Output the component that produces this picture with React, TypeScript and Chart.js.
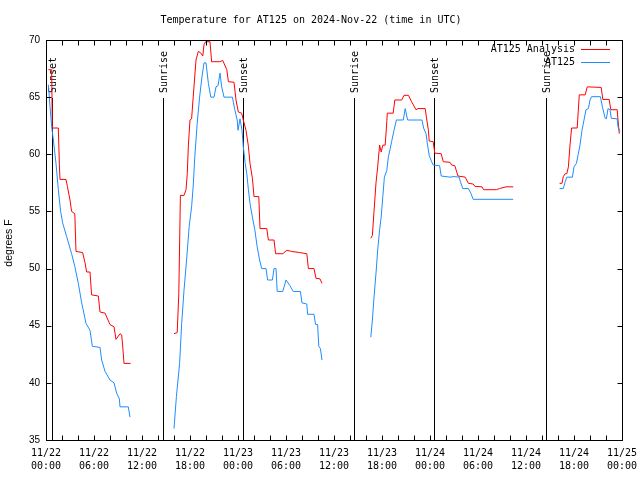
import React, { useEffect, useRef } from "react";
import { Chart, registerables } from "chart.js";

Chart.register(...registerables);

const chartTitle = "Temperature for AT125 on 2024-Nov-22 (time in UTC)";
const yAxisLabel = "degrees F";

// x axis: hours since 11/22 00:00 UTC
const xTickHours = [0, 6, 12, 18, 24, 30, 36, 42, 48, 54, 60, 66, 72];
const xTickDates = ["11/22", "11/22", "11/22", "11/22", "11/23", "11/23", "11/23", "11/23", "11/24", "11/24", "11/24", "11/24", "11/25"];
const xTickTimes = ["00:00", "06:00", "12:00", "18:00", "00:00", "06:00", "12:00", "18:00", "00:00", "06:00", "12:00", "18:00", "00:00"];
const yTickValues = [35, 40, 45, 50, 55, 60, 65, 70];

const eventNames = ["Sunset", "Sunrise", "Sunset", "Sunrise", "Sunset", "Sunrise"];
const eventHours = [0.71, 14.59, 24.66, 38.54, 48.54, 62.54];

const seriesNames = ["AT125 Analysis", "AT125"];
const seriesColors = ["#ff0000", "#1e8cff"];

// AT125 Analysis (red)
const analysisHours = [
  0.29, 0.71, 0.79, 1.54, 1.67, 1.75, 2.5, 2.67, 3.0, 3.2, 3.6, 3.75, 4.58, 4.88, 5.08, 5.5, 5.7, 6.54, 6.75, 7.38, 8.0, 8.5, 8.75, 9.25, 9.46, 9.58, 9.75, 10.58,
  13,
  16.0, 16.4, 16.6, 16.8, 17.25, 17.5, 17.66, 17.8, 18.0, 18.2, 18.4, 18.75, 19.04, 19.3, 19.6, 19.75, 19.96, 20.5, 20.7, 21.7, 22.1, 22.6, 22.8, 23.5, 23.75, 24.04, 24.46, 24.66, 25.0, 25.3, 25.5, 25.8, 26.0, 26.6, 26.75, 27.6, 27.8, 28.5, 28.7, 29.6, 30.1, 30.7, 31.7, 32.6, 32.8, 33.5, 33.75, 34.25, 34.5,
  37,
  40.6, 40.8, 41.0, 41.25, 41.46, 41.7, 41.9, 42.1, 42.4, 42.6, 42.66, 43.4, 43.6, 44.46, 44.75, 45.3, 45.7, 46.25, 46.5, 47.4, 47.6, 47.8, 47.9, 48.4, 48.6, 49.4, 49.66, 50.5, 50.7, 51.1, 51.5, 52.4, 52.8, 53.4, 53.6, 54.5, 54.7, 56.3, 56.7, 57.5, 58.4,
  61,
  64.2, 64.5, 64.66, 64.9, 65.1, 65.3, 65.5, 65.7, 66.4, 66.66, 67.4, 67.66, 69.4, 69.6, 70.4, 70.6, 71.4, 71.5, 71.66,
];
const analysisTemps = [
  67.4, 67.4, 62.3, 62.3, 59.1, 57.8, 57.8, 57.2, 56.0, 55.0, 54.8, 51.5, 51.4, 50.5, 49.7, 49.7, 47.7, 47.6, 46.2, 46.1, 45.1, 44.9, 43.8, 44.3, 44.2, 43.3, 41.7, 41.7,
  null,
  44.3, 44.4, 47.8, 56.4, 56.4, 56.9, 58.3, 60.8, 63.0, 63.1, 65.0, 68.25, 69.0, 68.9, 68.6, 69.6, 69.85, 69.85, 68.1, 68.1, 68.2, 67.4, 66.35, 66.3, 64.75, 63.7, 63.6, 63.0, 62.1, 60.7, 59.2, 57.9, 56.3, 56.3, 53.5, 53.5, 52.5, 52.5, 51.3, 51.3, 51.6, 51.5, 51.4, 51.3, 50.0, 50.0, 49.15, 49.1, 48.7,
  null,
  52.65, 52.9, 55.0, 57.5, 58.9, 60.8, 60.2, 60.8, 60.8, 62.85, 63.6, 63.6, 64.75, 64.75, 65.16, 65.16, 64.6, 63.9, 64.0, 64.0, 63.0, 62.1, 61.16, 61.1, 60.1, 60.05, 59.35, 59.3, 59.06, 59.0, 58.1, 58.0, 57.46, 57.4, 57.2, 57.15, 56.9, 56.9, 57.0, 57.15, 57.15,
  null,
  57.46, 57.46, 58.04, 58.3, 58.3, 58.9, 60.8, 62.3, 62.3, 65.2, 65.2, 65.9, 65.85, 64.8, 64.8, 63.9, 63.9, 63.0, 61.8,
];

// AT125 observed (blue)
const observedHours = [
  0.29, 0.5, 0.71, 0.92, 1.25, 1.54, 1.83, 2.08, 2.58, 3.2, 3.6, 4.04, 4.46, 5.0, 5.5, 5.79, 6.75, 6.96, 7.38, 8.0, 8.5, 8.83, 9.17, 9.25, 10.29, 10.5,
  13,
  16.0, 16.3, 16.7, 16.96, 17.25, 17.6, 17.9, 18.2, 18.4, 18.6, 18.9, 19.2, 19.5, 19.75, 20.0, 20.3, 20.6, 21.0, 21.25, 21.5, 21.75, 21.96, 22.25, 23.3, 23.6, 23.9, 24.0, 24.25, 24.5, 24.66, 24.9, 25.1, 25.3, 25.5, 25.8, 26.1, 26.4, 26.7, 26.96, 27.5, 27.7, 28.3, 28.5, 28.75, 28.9, 29.6, 30.0, 30.5, 30.9, 31.8, 32.0, 32.6, 32.7, 33.5, 33.7, 33.95, 34.1, 34.3, 34.5,
  37,
  40.6, 40.8, 41.0, 41.25, 41.46, 41.7, 41.9, 42.1, 42.3, 42.6, 42.8, 43.0, 43.2, 43.5, 43.8, 44.66, 44.9, 45.2, 47.0, 47.2, 47.5, 47.66, 47.9, 48.2, 48.4, 49.2, 49.4, 50.5, 51.0, 51.66, 51.8, 52.1, 52.8, 53.1, 53.4, 58.4,
  61,
  64.2, 64.66, 64.9, 65.1, 65.8, 66.0, 66.3, 66.5, 66.75, 67.0, 67.25, 67.5, 67.8, 68.0, 68.2, 69.3, 69.6, 69.9, 70.05, 70.25, 70.5, 70.66, 71.4, 71.5, 71.75,
];
const observedTemps = [
  66.1, 64.2, 62.4, 61.25, 59.2, 56.9, 55.0, 54.0, 52.8, 51.3, 50.2, 48.7, 47.0, 45.2, 44.6, 43.2, 43.1, 42.0, 41.0, 40.25, 40.0, 39.1, 38.6, 37.9, 37.9, 37.0,
  null,
  36.0, 38.8, 41.7, 45.2, 48.1, 51.0, 53.7, 55.4, 57.2, 59.8, 62.7, 65.0, 66.8, 68.0, 68.0, 66.2, 65.0, 65.0, 65.9, 66.0, 67.1, 65.9, 65.0, 65.0, 63.9, 63.0, 62.1, 63.1, 62.1, 60.7, 59.2, 58.3, 56.9, 55.7, 54.5, 53.4, 51.9, 50.75, 50.0, 50.0, 49.0, 49.0, 50.0, 50.0, 48.0, 48.0, 49.0, 48.5, 48.0, 48.0, 47.0, 46.9, 46.0, 46.0, 45.1, 45.1, 43.2, 43.0, 42.0,
  null,
  44.0, 45.5, 47.5, 49.6, 51.6, 53.4, 54.5, 56.3, 58.0, 58.6, 59.8, 60.4, 61.1, 62.1, 63.0, 63.0, 64.0, 63.0, 63.0, 62.3, 61.8, 61.0, 59.9, 59.35, 59.06, 59.0, 58.1, 58.0, 58.05, 58.0, 57.6, 57.0, 57.0, 56.6, 56.06, 56.06,
  null,
  57.0, 57.0, 57.6, 58.0, 58.0, 58.9, 59.2, 59.9, 60.8, 62.1, 63.0, 63.9, 64.0, 64.75, 65.04, 65.04, 64.0, 63.15, 63.1, 64.0, 63.9, 63.15, 63.1, 62.4, 62.0,
];

const MONO = '"DejaVu Sans Mono", monospace';
const SANS = '"Liberation Sans", Arial, sans-serif';

const decorPlugin = {
  id: "gnuplotDecor",
  beforeDatasetsDraw(chart: any) {
    const { ctx, chartArea: a, scales } = chart;
    const x = scales.x;
    ctx.save();
    ctx.strokeStyle = "#000";
    ctx.lineWidth = 1;
    ctx.fillStyle = "#000";
    ctx.font = `10px ${MONO}`;
    eventHours.forEach((h, i) => {
      const px = Math.round(x.getPixelForValue(h)) + 0.5;
      ctx.beginPath();
      ctx.moveTo(px, Math.round(a.top) + 58);
      ctx.lineTo(px, a.bottom);
      ctx.stroke();
      ctx.save();
      ctx.translate(px + 1, Math.round(a.top) + 53);
      ctx.rotate(-Math.PI / 2);
      ctx.textAlign = "left";
      ctx.textBaseline = "middle";
      ctx.fillText(eventNames[i], 0, 0);
      ctx.restore();
    });
    ctx.restore();
  },
  afterDraw(chart: any) {
    const { ctx, chartArea: a, scales } = chart;
    const x = scales.x;
    const y = scales.y;
    const L = Math.round(a.left) + 0.5;
    const R = Math.round(a.right) + 0.5;
    const T = Math.round(a.top) + 0.5;
    const B = Math.round(a.bottom) + 0.5;
    ctx.save();
    ctx.strokeStyle = "#000";
    ctx.lineWidth = 1;
    ctx.beginPath();
    // x ticks every 2 hours, inward on bottom and top
    for (let h = 2; h < 72; h += 2) {
      const px = Math.round(x.getPixelForValue(h)) + 0.5;
      ctx.moveTo(px, B);
      ctx.lineTo(px, B - 5);
      ctx.moveTo(px, T);
      ctx.lineTo(px, T + 5);
    }
    yTickValues.forEach((v) => {
      if (v === 35 || v === 70) return;
      const py = Math.round(y.getPixelForValue(v)) + 0.5;
      ctx.moveTo(L, py);
      ctx.lineTo(L + 5, py);
      ctx.moveTo(R, py);
      ctx.lineTo(R - 5, py);
    });
    ctx.stroke();
    ctx.strokeRect(L, T, R - L, B - T);

    // legend
    ctx.font = `10px ${MONO}`;
    ctx.textAlign = "right";
    ctx.textBaseline = "middle";
    seriesNames.forEach((name, i) => {
      const ry = Math.round(a.top) + 9 + i * 13 + 0.5;
      ctx.fillStyle = "#000";
      ctx.fillText(name, a.right - 47, ry);
      ctx.strokeStyle = seriesColors[i];
      ctx.beginPath();
      ctx.moveTo(a.right - 41, ry);
      ctx.lineTo(a.right - 12, ry);
      ctx.stroke();
    });

    // y axis title
    ctx.save();
    ctx.fillStyle = "#000";
    ctx.font = `10.5px ${SANS}`;
    ctx.translate(9, 243);
    ctx.rotate(-Math.PI / 2);
    ctx.textAlign = "center";
    ctx.textBaseline = "middle";
    ctx.fillText(yAxisLabel, 0, 0);
    ctx.restore();
    ctx.restore();
  },
};

export default function App() {
  const canvasRef = useRef<HTMLCanvasElement | null>(null);

  useEffect(() => {
    const canvas = canvasRef.current;
    if (!canvas) return;
    const chart = new Chart(canvas, {
      type: "line",
      data: {
        datasets: [
          {
            label: seriesNames[0],
            data: analysisHours.map((h, i) => ({ x: h, y: analysisTemps[i] })) as any,
            borderColor: seriesColors[0],
            borderWidth: 1,
            pointRadius: 0,
            fill: false,
            tension: 0,
            spanGaps: false,
            order: 1,
          },
          {
            label: seriesNames[1],
            data: observedHours.map((h, i) => ({ x: h, y: observedTemps[i] })) as any,
            borderColor: seriesColors[1],
            borderWidth: 1,
            pointRadius: 0,
            fill: false,
            tension: 0,
            spanGaps: false,
            order: 0,
          },
        ],
      },
      options: {
        animation: false,
        responsive: false,
        devicePixelRatio: 1,
        layout: { padding: { top: 0, right: 18, left: 0, bottom: 0 } },
        plugins: {
          legend: { display: false },
          tooltip: { enabled: false },
          title: {
            display: true,
            text: chartTitle,
            color: "#000",
            font: { family: MONO, size: 10, weight: "normal", lineHeight: 1.2 },
            padding: { top: 14, bottom: 14 },
          },
        },
        scales: {
          x: {
            type: "linear",
            min: 0,
            max: 72,
            afterFit: (s: any) => {
              s.height = 40;
              s.paddingLeft = 0;
              s.paddingRight = 0;
            },
            afterBuildTicks: (s: any) => {
              s.ticks = xTickHours.map((v) => ({ value: v }));
            },
            ticks: {
              autoSkip: false,
              maxRotation: 0,
              minRotation: 0,
              padding: 7,
              color: "#000",
              font: { family: MONO, size: 10, lineHeight: 1.3 },
              callback: (v: any) => {
                const i = xTickHours.indexOf(Number(v));
                return i >= 0 ? [xTickDates[i], xTickTimes[i]] : "";
              },
            },
            grid: { display: false, drawTicks: false },
            border: { display: false },
          },
          y: {
            type: "linear",
            min: 35,
            max: 70,
            afterFit: (s: any) => {
              s.width = 46;
              s.paddingTop = 0;
              s.paddingBottom = 0;
            },
            afterBuildTicks: (s: any) => {
              s.ticks = yTickValues.map((v) => ({ value: v }));
            },
            ticks: {
              padding: 6,
              color: "#000",
              font: { family: SANS, size: 10 },
            },
            grid: { display: false, drawTicks: false },
            border: { display: false },
          },
        },
      },
      plugins: [decorPlugin],
    } as any);
    return () => chart.destroy();
  }, []);

  return (
    <div style={{ position: "absolute", left: 0, top: 0, width: 640, height: 480, background: "#fff" }}>
      <canvas ref={canvasRef} width={640} height={480} style={{ display: "block", width: 640, height: 480 }} />
    </div>
  );
}
